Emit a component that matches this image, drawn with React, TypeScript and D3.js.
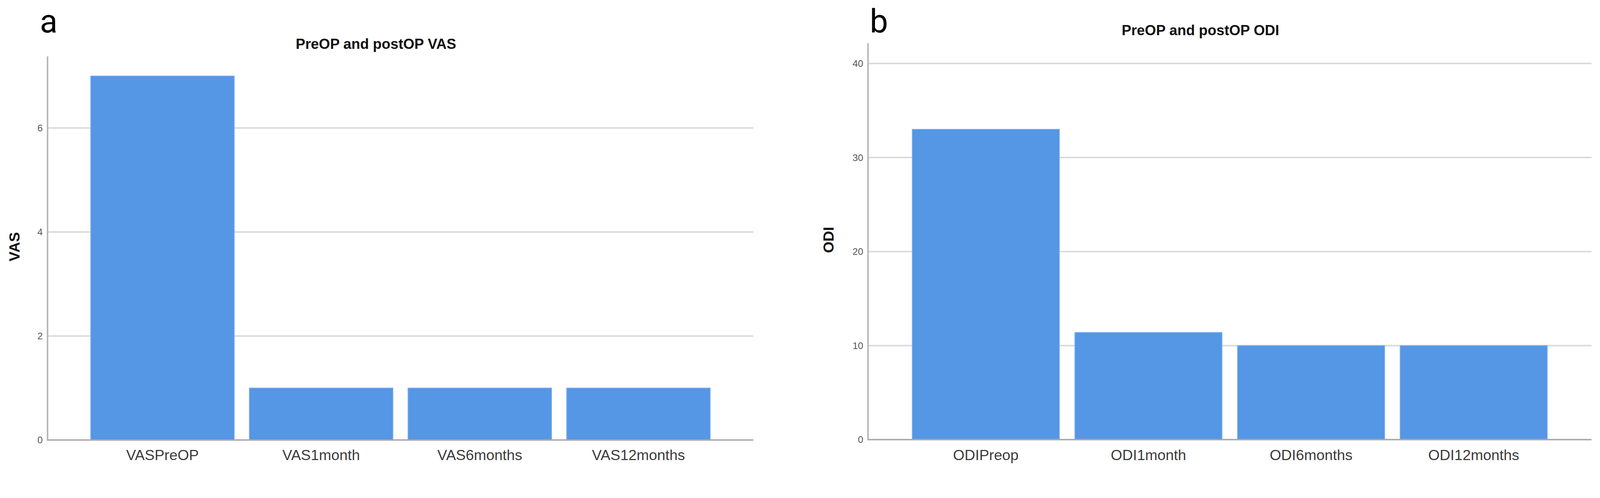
import React, {JSX} from "react";
import * as d3 from "d3";

// chart a
const vasCategories = ["VASPreOP", "VAS1month", "VAS6months", "VAS12months"];
const vasValues = [7, 1, 1, 1];
const vasTicks = [0, 2, 4, 6];

// chart b
const odiCategories = ["ODIPreop", "ODI1month", "ODI6months", "ODI12months"];
const odiValues = [33, 11.4, 10, 10];
const odiTicks = [0, 10, 20, 30, 40];

const W = 4341
const H = 1274
const font = "'Liberation Sans', Arial, sans-serif";
const barColor = "#5596e5";

type PanelProps = {
    letter: string
    title: string
    yLabel: string
    categories: string[]
    values: number[]
    ticks: number[]
    yMax: number
    left: number
    right: number
    top: number
    bottom: number
    titleX: number
    titleY: number
    letterX: number
    yLabelX: number
}

const Panel = (p: PanelProps): JSX.Element => {
    const x = d3.scaleBand(p.categories, [p.left, p.right]).paddingInner(0.095).paddingOuter(0.272);
    const y = d3.scaleLinear([0, p.yMax], [p.bottom, p.top]);
    const midY = (p.top + p.bottom) / 2;
    return (
        <g>
            <text x={p.letterX} y={88} fontFamily="Roboto, sans-serif" fontSize={88} fill="#000">{p.letter}</text>
            <text x={p.titleX} y={p.titleY} textAnchor="middle" fontFamily={font} fontWeight="bold" fontSize={39} fill="#111">{p.title}</text>
            <text transform={`translate(${p.yLabelX},${midY - 4}) rotate(-90)`} textAnchor="middle"
                  fontFamily={font} fontWeight="bold" fontSize={40} fill="#111">{p.yLabel}</text>
            {p.ticks.filter(t => t > 0).map(t => (
                <line key={t} x1={p.left} x2={p.right} y1={y(t)} y2={y(t)} stroke="#d9d9d9" strokeWidth={4}/>
            ))}
            {p.categories.map((c, i) => (
                <rect key={c} x={x(c)} y={y(p.values[i])} width={x.bandwidth()} height={y(0) - y(p.values[i])}
                      fill={barColor} stroke="#7eb0ee" strokeWidth={2}/>
            ))}
            <line x1={p.left} x2={p.right} y1={y(0)} y2={y(0)} stroke="#a9a9a9" strokeWidth={4}/>
            <line x1={p.left} x2={p.left} y1={p.top} y2={y(0) + 2} stroke="#b4b4b4" strokeWidth={4}/>
            {p.ticks.map(t => (
                <text key={t} x={p.left - 13} y={y(t)} dy="0.35em" textAnchor="end" fontFamily={font}
                      fontSize={26} fill="#555">{t}</text>
            ))}
            {p.categories.map(c => (
                <text key={c} x={(x(c) as number) + x.bandwidth() / 2} y={1247} textAnchor="middle"
                      fontFamily={font} fontSize={40} fill="#3c3c3c">{c}</text>
            ))}
        </g>
    )
}

export default function App(): JSX.Element {
    // fit the 4341x1274 coordinate space to the viewport, pinned top-left
    return (
        <svg viewBox={`0 0 ${W} ${H}`} preserveAspectRatio="xMinYMin meet"
             style={{position: "fixed", left: 0, top: 0, width: "100vw", height: "100vh", background: "#fff"}}>
            <rect width={W} height={H} fill="#fff"/>
            <Panel letter="a" title="PreOP and postOP VAS" yLabel="VAS" categories={vasCategories}
                   values={vasValues} ticks={vasTicks} yMax={7.376} left={129} right={2044} top={153}
                   bottom={1193} titleX={1020} titleY={132} letterX={108} yLabelX={53}/>
            <Panel letter="b" title="PreOP and postOP ODI" yLabel="ODI" categories={odiCategories}
                   values={odiValues} ticks={odiTicks} yMax={42.16} left={2355} right={4318} top={117}
                   bottom={1192} titleX={3257} titleY={95} letterX={2360} yLabelX={2262}/>
        </svg>
    )
}
